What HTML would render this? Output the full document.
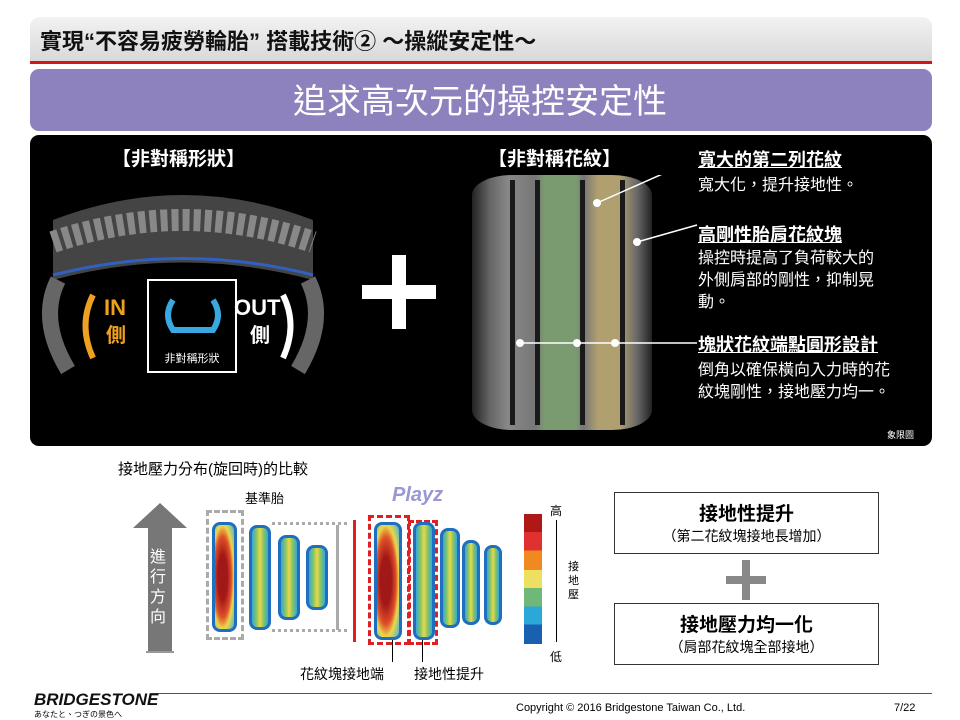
<!DOCTYPE html>
<html><head><meta charset="utf-8"><style>
*{margin:0;padding:0;box-sizing:border-box}
body{width:960px;height:720px;background:#fff;position:relative;overflow:hidden;font-family:"Liberation Sans","Noto Sans CJK TC",sans-serif}
.a{position:absolute}
.t{color:#fff;font-size:16px;line-height:20px}
.blob{position:absolute;border-radius:8px;border:3px solid #1f6fc0;background:linear-gradient(90deg,#3aa8d8,#7cc36a 25%,#e9d84a 50%,#7cc36a 75%,#3aa8d8)}
.red{background:radial-gradient(ellipse at 40% 50%,#a01818 30%,#e0502a 55%,#e9d84a 70%,#49b0d8)}
.g{position:absolute;top:180px;height:245px;width:5px;background:#1a1a1a}
</style></head><body>
<div class="a" style="left:30px;top:17px;width:902px;height:45px;border-radius:10px 10px 0 0;background:linear-gradient(180deg,#f2f2f2,#d8d8d8)"></div>
<div class="a" style="left:40px;top:24px;font-size:22px;font-weight:bold;color:#111">實現“不容易疲勞輪胎” 搭載技術② ～操縱安定性～</div>
<div class="a" style="left:30px;top:61px;width:902px;height:3px;background:#d01818"></div>
<div class="a" style="left:30px;top:69px;width:902px;height:62px;border-radius:9px;background:#8d82bd"></div>
<div class="a" style="left:0;top:82px;width:960px;text-align:center;font-size:34px;color:#fff;line-height:40px">追求高次元的操控安定性</div>
<div class="a" style="left:30px;top:135px;width:902px;height:311px;border-radius:9px;background:#000"></div>
<div class="a t" style="left:112px;top:150px;font-size:19px;font-weight:bold">【非對稱形狀】</div>
<div class="a t" style="left:488px;top:150px;font-size:19px;font-weight:bold">【非對稱花紋】</div>
<!-- left tire -->
<svg class="a" style="left:38px;top:180px" width="290" height="200">
<path d="M15 40 Q145 -10 275 40 L275 100 Q145 65 15 100Z" fill="#444"/>
<path d="M15 62 Q145 18 275 62" stroke="#888" stroke-width="22" fill="none" stroke-dasharray="7 4"/>
<path d="M15 95 Q145 62 275 95" stroke="#3060c0" stroke-width="3" fill="none"/>
<path d="M20 100 Q0 140 30 190" stroke="#666" stroke-width="16" fill="none"/>
<path d="M270 100 Q290 140 260 190" stroke="#666" stroke-width="16" fill="none"/>
<path d="M55 115 Q40 145 55 178" stroke="#f0a020" stroke-width="6" fill="none"/>
<path d="M245 115 Q260 145 245 178" stroke="#fff" stroke-width="6" fill="none"/>
<rect x="110" y="100" width="88" height="92" fill="#000" stroke="#fff" stroke-width="2"/>
<path d="M135 120 Q125 135 135 150 L175 150 Q185 135 175 120" stroke="#3aa8e0" stroke-width="6" fill="none"/>
<text x="154" y="182" fill="#fff" font-size="11" text-anchor="middle" font-family="Noto Sans CJK TC">非對稱形狀</text>
<text x="66" y="135" fill="#f0a020" font-size="22" font-weight="bold">IN</text>
<text x="68" y="162" fill="#f0a020" font-size="20" font-weight="bold" font-family="Noto Sans CJK TC">側</text>
<text x="196" y="135" fill="#fff" font-size="22" font-weight="bold">OUT</text>
<text x="212" y="162" fill="#fff" font-size="20" font-weight="bold" font-family="Noto Sans CJK TC">側</text>
</svg>
<div class="a" style="left:362px;top:285px;width:74px;height:14px;background:#fff"></div>
<div class="a" style="left:392px;top:255px;width:14px;height:74px;background:#fff"></div>
<!-- right tire -->
<div class="a" style="left:472px;top:175px;width:180px;height:255px;border-radius:40px/20px;background:linear-gradient(90deg,#222,#666 10%,#888 20%,#777 35%,#7a9a70 40%,#7a9a70 58%,#777 62%,#b0a070 70%,#b0a070 82%,#666 92%,#222)"></div>
<div class="g" style="left:510px"></div><div class="g" style="left:535px"></div><div class="g" style="left:580px"></div><div class="g" style="left:620px"></div>
<svg class="a" style="left:472px;top:175px" width="480" height="260">
<line x1="125" y1="28" x2="222" y2="-15" stroke="#fff" stroke-width="1.5"/>
<circle cx="125" cy="28" r="4" fill="#fff"/>
<line x1="165" y1="67" x2="225" y2="50" stroke="#fff" stroke-width="1.5"/>
<circle cx="165" cy="67" r="4" fill="#fff"/>
<line x1="48" y1="168" x2="225" y2="168" stroke="#fff" stroke-width="1.5"/>
<circle cx="48" cy="168" r="4" fill="#fff"/><circle cx="105" cy="168" r="4" fill="#fff"/><circle cx="143" cy="168" r="4" fill="#fff"/>
</svg>
<div class="a t" style="left:698px;top:150px;font-size:18px;font-weight:bold;text-decoration:underline">寬大的第二列花紋</div>
<div class="a t" style="left:698px;top:176px">寬大化，提升接地性。</div>
<div class="a t" style="left:698px;top:225px;font-size:18px;font-weight:bold;text-decoration:underline">高剛性胎肩花紋塊</div>
<div class="a t" style="left:698px;top:248px;line-height:22px">操控時提高了負荷較大的<br>外側肩部的剛性，抑制晃<br>動。</div>
<div class="a t" style="left:698px;top:335px;font-size:18px;font-weight:bold;text-decoration:underline">塊狀花紋端點圓形設計</div>
<div class="a t" style="left:698px;top:360px;line-height:22px">倒角以確保橫向入力時的花<br>紋塊剛性，接地壓力均一。</div>
<div class="a" style="left:887px;top:428px;color:#fff;font-size:9px">象限圖</div>
<!-- bottom -->
<div class="a" style="left:118px;top:458px;font-size:15px">接地壓力分布(旋回時)的比較</div>
<div class="a" style="left:245px;top:488px;font-size:13px">基準胎</div>
<div class="a" style="left:392px;top:484px;font-size:20px;font-weight:bold;font-style:italic;color:#9a98d0">Playz</div>
<svg class="a" style="left:130px;top:500px" width="60" height="160">
<polygon points="30,3 57,28 42,28 42,152 18,152 18,28 3,28" fill="#777"/>
<line x1="16" y1="152" x2="44" y2="152" stroke="#999" stroke-width="2"/>
</svg>
<div class="a" style="left:150px;top:548px;width:14px;color:#fff;font-size:16px;line-height:20px">進行方向</div>
<div class="a" style="left:206px;top:510px;width:38px;height:130px;border:3px dashed #aaa"></div>
<div class="blob red" style="left:212px;top:522px;width:25px;height:110px"></div>
<div class="blob" style="left:249px;top:525px;width:22px;height:105px"></div>
<div class="blob" style="left:278px;top:535px;width:22px;height:85px"></div>
<div class="blob" style="left:306px;top:545px;width:22px;height:65px"></div>
<div class="a" style="left:272px;top:522px;width:75px;height:110px;border-top:3px dotted #aaa;border-bottom:3px dotted #aaa"></div>
<div class="a" style="left:336px;top:525px;width:3px;height:105px;background:#aaa"></div>
<div class="a" style="left:353px;top:520px;width:3px;height:122px;background:#e02020"></div>
<div class="a" style="left:368px;top:515px;width:42px;height:130px;border:3px dashed #e02020"></div>
<div class="a" style="left:408px;top:520px;width:30px;height:125px;border:3px dashed #e02020"></div>
<div class="blob red" style="left:374px;top:522px;width:28px;height:118px"></div>
<div class="blob" style="left:413px;top:522px;width:22px;height:118px"></div>
<div class="blob" style="left:440px;top:528px;width:20px;height:100px"></div>
<div class="blob" style="left:462px;top:540px;width:18px;height:85px"></div>
<div class="blob" style="left:484px;top:545px;width:18px;height:80px"></div>
<div class="a" style="left:392px;top:640px;width:1px;height:22px;background:#000"></div>
<div class="a" style="left:422px;top:640px;width:1px;height:22px;background:#000"></div>
<div class="a" style="left:300px;top:664px;font-size:14px">花紋塊接地端</div>
<div class="a" style="left:414px;top:664px;font-size:14px">接地性提升</div>
<div class="a" style="left:524px;top:514px;width:18px;height:130px;background:linear-gradient(#b01818 0 14%,#e03030 14% 28%,#f08a20 28% 43%,#ede060 43% 57%,#70b878 57% 71%,#2aa8d8 71% 85%,#1a60b0 85%)"></div>
<div class="a" style="left:550px;top:502px;font-size:12px">高</div>
<div class="a" style="left:550px;top:648px;font-size:12px">低</div>
<div class="a" style="left:556px;top:520px;width:1px;height:122px;background:#000"></div>
<div class="a" style="left:568px;top:560px;width:12px;font-size:11px;line-height:14px">接地壓</div>
<div class="a" style="left:614px;top:492px;width:265px;height:62px;border:1px solid #333;text-align:center"><div style="font-size:19px;font-weight:bold;margin-top:6px">接地性提升</div><div style="font-size:14px">（第二花紋塊接地長增加）</div></div>
<div class="a" style="left:726px;top:576px;width:40px;height:8px;background:#888"></div>
<div class="a" style="left:742px;top:560px;width:8px;height:40px;background:#888"></div>
<div class="a" style="left:614px;top:603px;width:265px;height:62px;border:1px solid #333;text-align:center"><div style="font-size:19px;font-weight:bold;margin-top:6px">接地壓力均一化</div><div style="font-size:14px">（肩部花紋塊全部接地）</div></div>
<div class="a" style="left:150px;top:693px;width:782px;height:1px;background:#555"></div>
<div class="a" style="left:34px;top:690px;font-size:17px;font-weight:bold;font-style:italic;color:#111">BRIDGESTONE</div>
<div class="a" style="left:34px;top:709px;font-size:8px">あなたと、つぎの景色へ</div>
<div class="a" style="left:516px;top:702px;font-size:11px">Copyright © 2016 Bridgestone Taiwan Co., Ltd.</div>
<div class="a" style="left:894px;top:702px;font-size:11px">7/22</div>
</body></html>
